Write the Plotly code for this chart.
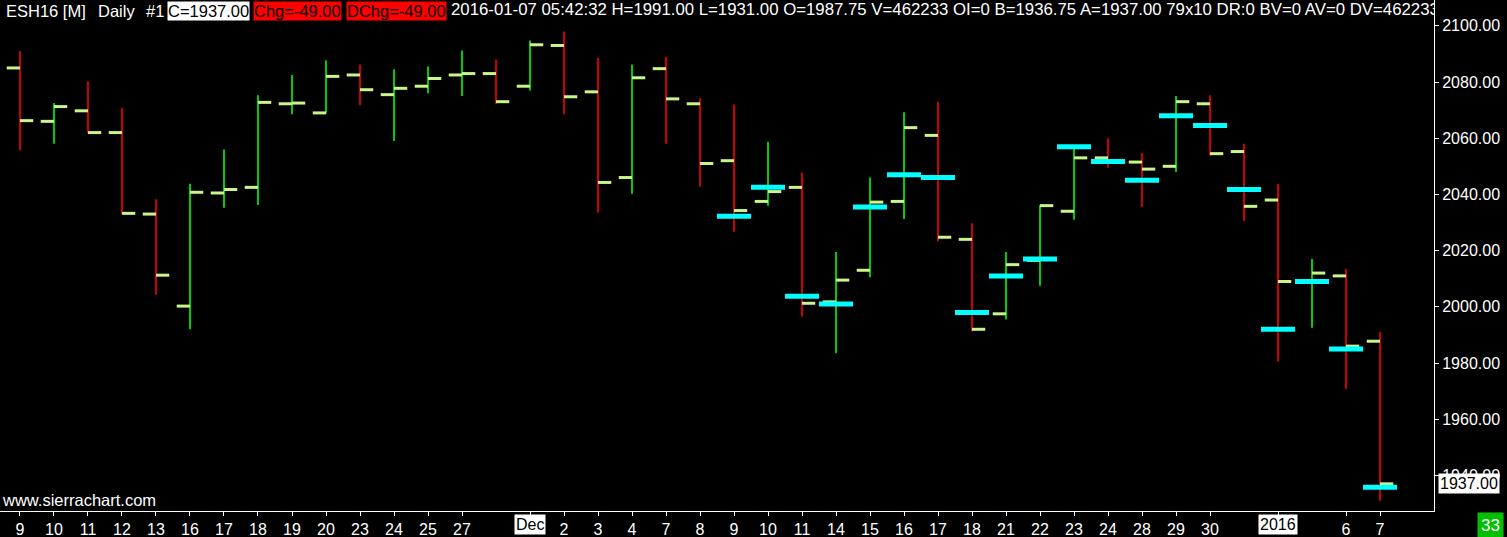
import plotly.graph_objects as go

# ---------------- data ----------------
dates = ["Nov 9", "Nov 10", "Nov 11", "Nov 12", "Nov 13", "Nov 16", "Nov 17", "Nov 18", "Nov 19", "Nov 20",
         "Nov 23", "Nov 24", "Nov 25", "Nov 27", "Nov 30", "Dec 1", "Dec 2", "Dec 3", "Dec 4", "Dec 7",
         "Dec 8", "Dec 9", "Dec 10", "Dec 11", "Dec 14", "Dec 15", "Dec 16", "Dec 17", "Dec 18", "Dec 21",
         "Dec 22", "Dec 23", "Dec 24", "Dec 28", "Dec 29", "Dec 30", "Dec 31", "Jan 4", "Jan 5", "Jan 6", "Jan 7"]
x_labels = ["9", "10", "11", "12", "13", "16", "17", "18", "19", "20",
            "23", "24", "25", "27", "", "Dec", "2", "3", "4", "7",
            "8", "9", "10", "11", "14", "15", "16", "17", "18", "21",
            "22", "23", "24", "28", "29", "30", "", "2016", "", "6", "7"]
boxed_labels = ["Dec", "2016"]

opens = [2085.0, 2066.0, 2069.75, 2062.0, 2033.0, 2000.25, 2040.5, 2042.5, 2072.25, 2069.0,
         2082.5, 2075.5, 2078.5, 2082.5, 2083.0, 2078.5, 2093.0, 2076.5, 2046.0, 2084.75,
         2072.25, 2052.0, 2037.5, 2042.5, 2001.75, 2013.0, 2037.5, 2061.0, 2024.0, 1997.5,
         2016.5, 2034.0, 2053.0, 2051.5, 2050.0, 2072.25, 2055.25, 2038.0, 2009.25, 2011.0, 1987.75]
highs = [2091.0, 2072.5, 2080.25, 2070.75, 2038.25, 2043.75, 2056.0, 2075.25, 2082.5, 2087.75,
         2086.25, 2084.5, 2085.5, 2091.25, 2088.0, 2094.75, 2098.0, 2088.5, 2086.25, 2089.0,
         2074.25, 2072.0, 2058.75, 2047.75, 2019.5, 2046.0, 2069.25, 2073.0, 2029.75, 2019.5,
         2036.25, 2056.25, 2060.0, 2054.75, 2075.0, 2075.25, 2058.0, 2043.75, 2017.0, 2013.5, 1991.0]
lows = [2055.75, 2058.0, 2061.75, 2033.0, 2004.25, 1992.0, 2035.25, 2036.25, 2068.5, 2068.75,
        2071.75, 2059.0, 2076.0, 2075.0, 2072.25, 2077.0, 2068.5, 2033.5, 2040.25, 2058.0,
        2042.75, 2026.75, 2036.0, 1996.5, 1983.5, 2010.5, 2031.25, 2023.25, 1991.25, 1995.5,
        2007.5, 2031.0, 2049.5, 2035.5, 2048.0, 2053.75, 2030.5, 1980.5, 1992.5, 1970.75, 1931.0]
closes = [2066.25, 2071.25, 2062.0, 2033.25, 2011.25, 2040.75, 2041.75, 2072.75, 2072.5, 2082.0,
          2077.25, 2077.75, 2081.25, 2083.0, 2073.0, 2093.25, 2074.75, 2044.25, 2081.5, 2074.0,
          2051.0, 2034.25, 2041.0, 2001.25, 2009.5, 2037.25, 2063.75, 2024.75, 1992.0, 2015.0,
          2036.0, 2053.0, 2051.5, 2049.0, 2073.0, 2054.5, 2035.75, 2009.0, 2012.0, 1986.0, 1937.0]
# cyan study marker (None = not shown on that bar)
study = [None] * 21 + [2032.25, 2042.5, 2003.75, 2001.0, 2035.5, 2047.0, 2046.0, 1998.0, 2011.0,
                       2017.0, 2057.0, 2051.75, 2045.0, 2068.0, 2064.5, 2041.75, 1992.0, 2009.0, 1985.0, 1935.75]

y_ticks = [1940, 1960, 1980, 2000, 2020, 2040, 2060, 2080, 2100]
last_price = 1937.0

header_parts = ["ESH16 [M]", "Daily", "#1"]
header_boxes = [("C=1937.00", "white", "black"), ("Chg=-49.00", "#ff0000", "black"), ("DChg=-49.00", "#ff0000", "black")]
header_tail = "2016-01-07 05:42:32 H=1991.00 L=1931.00 O=1987.75 V=462233 OI=0 B=1936.75 A=1937.00 79x10 DR:0 BV=0 AV=0 DV=462233"
bar_count_label = "33"
watermark = "www.sierrachart.com"

# ---------------- styles ----------------
W, H = 1507, 537
PLOT_W, PLOT_H = 1434, 511
UP, DOWN = "#00ff00", "#ff0000"
TICK_C = "#c8f58c"
CYAN = "#00ffff"
X_RANGE = [-0.588, 41.588]
Y_RANGE = [1927.33, 2109.18]
FONT = "Liberation Sans, Arial, sans-serif"
NARROW = "Liberation Sans Narrow, Arial Narrow, Liberation Sans, sans-serif"
HALF = 0.39

n = len(opens)
idx = list(range(n))

fig = go.Figure()

def vlines(sel):
    xs, ys = [], []
    for i in sel:
        xs += [i, i, None]
        ys += [lows[i], highs[i], None]
    return xs, ys

up_idx = [i for i in idx if closes[i] >= opens[i]]
dn_idx = [i for i in idx if closes[i] < opens[i]]
for sel, col in ((up_idx, UP), (dn_idx, DOWN)):
    xs, ys = vlines(sel)
    fig.add_trace(go.Scatter(x=xs, y=ys, mode="lines", line=dict(color=col, width=1.6),
                             hoverinfo="skip", showlegend=False))

# open / close ticks
tx, ty = [], []
for i in idx:
    tx += [i - HALF, i, None, i, i + HALF, None]
    ty += [opens[i], opens[i], None, closes[i], closes[i], None]
fig.add_trace(go.Scatter(x=tx, y=ty, mode="lines", line=dict(color=TICK_C, width=3),
                         hoverinfo="skip", showlegend=False))

# cyan study
sx, sy = [], []
for i in idx:
    if study[i] is not None:
        sx += [i - 0.5, i + 0.5, None]
        sy += [study[i], study[i], None]
fig.add_trace(go.Scatter(x=sx, y=sy, mode="lines", line=dict(color=CYAN, width=5),
                         hoverinfo="skip", showlegend=False))

# header tail text (clipped at the plot edge like the original)
px_per_x = PLOT_W / (X_RANGE[1] - X_RANGE[0])
px_per_y = PLOT_H / (Y_RANGE[1] - Y_RANGE[0])
tail_x = X_RANGE[0] + 451 / px_per_x
tail_y = Y_RANGE[1] - 11 / px_per_y
fig.add_trace(go.Scatter(x=[tail_x], y=[tail_y], mode="text", text=[header_tail],
                         textposition="middle right", cliponaxis=True,
                         textfont=dict(color="white", size=16.8, family=FONT),
                         hoverinfo="skip", showlegend=False))

ann = []
def px_ann(text, xpx, ypx, color="white", bg=None, size=16.5, family=FONT, anchor="left", pad=0):
    d = dict(text=text, xref="paper", yref="paper", x=xpx / PLOT_W, y=1 - ypx / PLOT_H,
             xanchor=anchor, yanchor="middle", showarrow=False,
             font=dict(color=color, size=size, family=family), borderpad=pad)
    if bg:
        d["bgcolor"] = bg
    return d

for text, xp in zip(header_parts, [5, 97, 145]):
    ann.append(px_ann(text, xp, 11))
for (text, bg, fg), xp in zip(header_boxes, [167, 253, 346]):
    ann.append(px_ann(text, xp, 11, color=fg, bg=bg))

ann.append(px_ann(watermark, 1, 500, size=16.5))
ann.append(px_ann(bar_count_label, 1477, 525, bg="#00c000", size=17, family=NARROW, pad=3))
ann.append(dict(text=f"{last_price:.2f}", xref="paper", yref="y", x=1438 / PLOT_W, y=last_price,
                xanchor="left", yanchor="middle", showarrow=False, bgcolor="white",
                font=dict(color="black", size=16, family=FONT), borderpad=1))
for i, lab in enumerate(x_labels):
    if lab in boxed_labels:
        ann.append(dict(text=lab, xref="x", yref="paper", x=i, y=-(524 - PLOT_H) / PLOT_H,
                        xanchor="center", yanchor="middle", showarrow=False, bgcolor="white",
                        font=dict(color="black", size=16, family=NARROW), borderpad=1))

tickvals = [i for i, lab in enumerate(x_labels) if lab]
ticktext = ["" if x_labels[i] in boxed_labels else x_labels[i] for i in tickvals]

fig.update_layout(
    width=W, height=H,
    margin=dict(l=0, r=W - PLOT_W, t=0, b=H - PLOT_H, autoexpand=False),
    paper_bgcolor="black", plot_bgcolor="black",
    annotations=ann,
    xaxis=dict(range=X_RANGE, tickvals=tickvals, ticktext=ticktext, showgrid=False, zeroline=False,
               automargin=False,
               showline=True, linecolor="white", linewidth=1, ticks="outside", ticklen=4,
               tickcolor="white", tickfont=dict(color="white", size=16, family=NARROW)),
    yaxis=dict(range=Y_RANGE, side="right", tickvals=y_ticks, ticktext=[f"{v:.2f}" for v in y_ticks],
               automargin=False,
               showgrid=False, zeroline=False, showline=True, linecolor="white", linewidth=1,
               ticks="outside", ticklen=4, tickcolor="white",
               tickfont=dict(color="white", size=16, family=FONT)),
    showlegend=False,
)

fig.write_html("out.html", config={"displayModeBar": False},
               post_script="document.body.style.margin='0';document.body.style.background='black';document.body.style.overflow='hidden';")
